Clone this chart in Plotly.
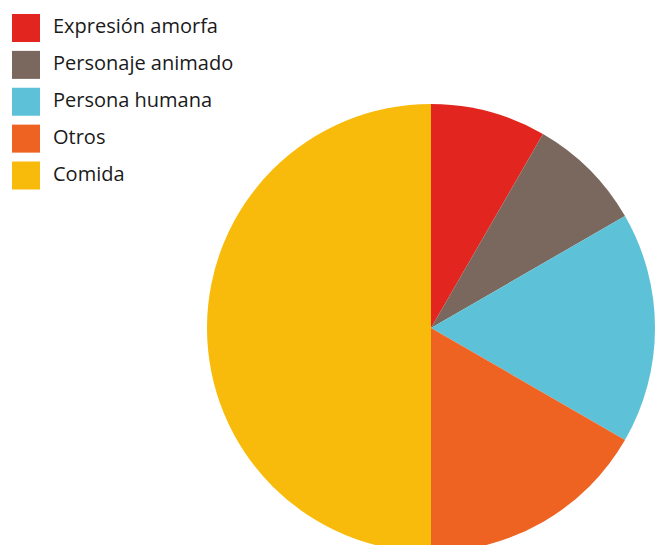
import plotly.graph_objects as go

# data
categories = ["Expresión amorfa", "Personaje animado", "Persona humana", "Otros", "Comida"]
values = [1, 1, 2, 2, 6]
colors = ["#E2261F", "#7A675D", "#5DC2D7", "#EE6222", "#F8BB0C"]

W, H = 660, 552
FONT = "'Open Sans', sans-serif"

fig = go.Figure()

# pie, clockwise from 12 o'clock, no labels
fig.add_trace(go.Pie(
    labels=categories, values=values,
    marker=dict(colors=colors, line=dict(width=0)),
    sort=False, direction="clockwise", rotation=0,
    textinfo="none", hoverinfo="label+percent",
    domain=dict(x=[207 / W, 655 / W], y=[0, 448 / H]),
    showlegend=False,
))

# hand-made legend: big squares + labels
idx = list(range(len(categories)))
fig.add_trace(go.Scatter(
    x=[0] * len(idx), y=idx, mode="markers",
    marker=dict(symbol="square", size=28, color=colors, line=dict(width=0)),
    hoverinfo="skip", showlegend=False,
))
fig.add_trace(go.Scatter(
    x=[1] * len(idx), y=idx, mode="text", text=categories,
    textposition="middle right",
    textfont=dict(family=FONT, size=20, color="#1a1a1a"),
    hoverinfo="skip", showlegend=False,
))

fig.update_layout(
    width=W, height=H,
    margin=dict(l=0, r=0, t=0, b=0),
    paper_bgcolor="white", plot_bgcolor="rgba(0,0,0,0)",
    font=dict(family=FONT),
    xaxis=dict(domain=[0, 0.5], range=[-26 / 27, 304 / 27], visible=False, fixedrange=True),
    yaxis=dict(domain=[1 - 200 / H, 1], range=[172 / 36.875, -28 / 36.875], visible=False, fixedrange=True),
)

fig.write_html("out.html", config={"displayModeBar": False},
               post_script="document.body.style.margin='0';document.body.style.overflow='hidden';")
